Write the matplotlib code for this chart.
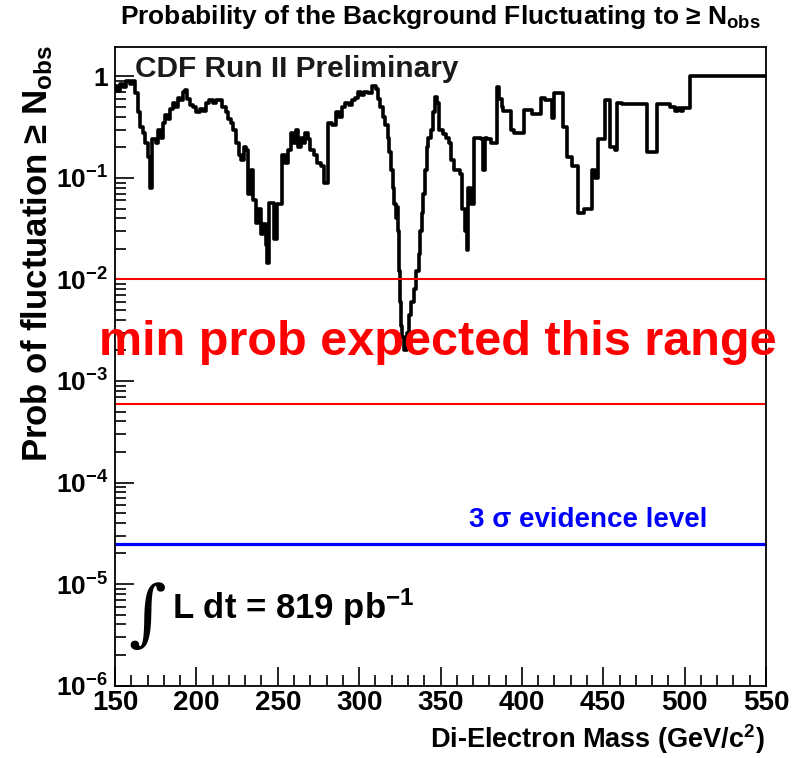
import numpy as np
import matplotlib
matplotlib.use("Agg")
import matplotlib.pyplot as plt
from matplotlib.ticker import FixedLocator, LogLocator, NullFormatter

plt.rcParams['font.family'] = ['Liberation Sans', 'DejaVu Sans']
plt.rcParams['font.weight'] = 'bold'
plt.rcParams['mathtext.fontset'] = 'custom'
plt.rcParams['mathtext.rm'] = 'Liberation Sans:bold'
plt.rcParams['mathtext.it'] = 'Liberation Sans:bold'
plt.rcParams['mathtext.bf'] = 'Liberation Sans:bold'

# step histogram: left bin edge (GeV/c^2) and probability
mass = [150.0, 151.5, 153.0, 155.0, 157.0, 159.0, 160.5, 162.0, 164.0, 165.5,
        167.0, 168.5, 170.0, 171.5, 173.0, 175.0, 176.5, 178.0, 179.5, 181.0,
        182.5, 184.0, 185.5, 187.0, 188.5, 190.0, 191.5, 193.0, 194.5, 196.0,
        198.0, 200.0, 202.0, 204.0, 206.0, 208.0, 210.0, 212.0, 214.0, 216.0,
        218.0, 219.5, 221.0, 222.5, 224.5, 226.0, 227.5, 229.0, 230.5, 232.0,
        233.5, 235.0, 236.5, 238.0, 239.5, 241.0, 242.5, 243.5, 244.5, 247.5,
        249.5, 252.5, 254.5, 256.5, 258.0, 259.5, 261.0, 262.5, 264.0, 265.5,
        267.0, 268.5, 270.0, 272.0, 274.0, 276.5, 278.5, 281.0, 283.5, 285.5,
        287.5, 289.5, 291.5, 293.5, 295.5, 297.5, 299.0, 301.0, 303.0, 305.5,
        308.0, 310.5, 311.5, 313.0, 314.5, 316.0, 317.5, 318.5, 319.5, 320.5,
        321.5, 322.5, 323.0, 324.0, 324.5, 325.0, 325.8, 326.5, 327.5, 329.5,
        330.5, 332.0, 333.5, 335.0, 336.5, 337.5, 338.5, 339.5, 340.5, 341.5,
        342.5, 344.0, 345.5, 346.5, 348.0, 349.0, 351.5, 353.5, 355.0, 356.5,
        358.0, 359.5, 362.0, 363.5, 365.0, 366.0, 367.0, 369.0, 370.5, 375.0,
        376.0, 377.5, 378.5, 381.0, 384.5, 386.0, 387.5, 388.5, 393.5, 395.0,
        401.5, 406.0, 412.0, 414.0, 418.5, 419.5, 425.5, 427.5, 431.0, 434.5,
        438.0, 443.0, 445.0, 447.0, 451.0, 454.0, 457.0, 458.5, 461.5, 477.0,
        483.0, 491.0, 494.0, 496.0, 497.5, 499.0, 503.3]
prob = [0.80, 0.72, 0.85, 0.78, 0.90, 0.85, 0.90, 0.69, 0.45, 0.32,
        0.28, 0.22, 0.16, 0.08, 0.24, 0.22, 0.30, 0.25, 0.35, 0.42,
        0.38, 0.48, 0.55, 0.50, 0.62, 0.58, 0.70, 0.74, 0.60, 0.52,
        0.50, 0.45, 0.48, 0.46, 0.55, 0.58, 0.55, 0.58, 0.58, 0.50,
        0.45, 0.38, 0.35, 0.30, 0.22, 0.17, 0.15, 0.20, 0.19, 0.07,
        0.12, 0.06, 0.036, 0.05, 0.028, 0.035, 0.022, 0.0145, 0.057, 0.025,
        0.055, 0.17, 0.14, 0.19, 0.28, 0.22, 0.30, 0.20, 0.25, 0.22,
        0.28, 0.24, 0.19, 0.17, 0.14, 0.13, 0.09, 0.35, 0.33, 0.45,
        0.40, 0.50, 0.55, 0.52, 0.58, 0.62, 0.70, 0.65, 0.70, 0.68,
        0.80, 0.76, 0.60, 0.50, 0.40, 0.33, 0.25, 0.18, 0.12, 0.08,
        0.056, 0.04, 0.052, 0.03, 0.012, 0.006, 0.0035, 0.0027, 0.0020, 0.0030,
        0.0045, 0.006, 0.008, 0.012, 0.018, 0.03, 0.045, 0.07, 0.12, 0.20,
        0.25, 0.30, 0.45, 0.63, 0.55, 0.30, 0.27, 0.25, 0.22, 0.15,
        0.12, 0.12, 0.11, 0.05, 0.03, 0.0195, 0.08, 0.055, 0.25, 0.24,
        0.12, 0.25, 0.24, 0.22, 0.79, 0.60, 0.50, 0.46, 0.30, 0.28,
        0.47, 0.43, 0.61, 0.58, 0.39, 0.68, 0.32, 0.16, 0.13, 0.045,
        0.05, 0.12, 0.10, 0.24, 0.58, 0.20, 0.19, 0.55, 0.53, 0.18,
        0.53, 0.50, 0.46, 0.49, 0.46, 0.49, 1.0]
x_end = 550.0

min_expected = [1e-2, 6e-4]
three_sigma = 2.5e-5

xticks = [150, 200, 250, 300, 350, 400, 450, 500, 550]
yticks = [1e-6, 1e-5, 1e-4, 1e-3, 1e-2, 1e-1, 1]
ylabels = ['10$^{-6}$', '10$^{-5}$', '10$^{-4}$', '10$^{-3}$', '10$^{-2}$', '10$^{-1}$', '1']

fig = plt.figure(figsize=(8.01, 7.58), dpi=100)
ax = fig.add_axes([0.1436, 0.0956, 0.8127, 0.8424])

ax.step(mass + [x_end], prob + [prob[-1]], where='post', color='black', lw=2.6)
for v in min_expected:
    ax.axhline(v, color='red', lw=1.5)
ax.axhline(three_sigma, color='blue', lw=2.3)

ax.set_yscale('log')
ax.set_xlim(150, 550)
ax.set_ylim(1e-6, 1.95)

ax.xaxis.set_major_locator(FixedLocator(xticks))
ax.xaxis.set_minor_locator(FixedLocator(np.arange(150, 551, 10)))
ax.set_xticklabels([str(t) for t in xticks])
ax.yaxis.set_major_locator(FixedLocator(yticks))
ax.set_yticklabels(ylabels)
ax.yaxis.set_minor_locator(LogLocator(base=10, subs=np.arange(2, 10), numticks=20))
ax.yaxis.set_minor_formatter(NullFormatter())
ax.tick_params(which='both', direction='in', top=False, right=False, width=1.2)
ax.tick_params(which='major', length=14)
ax.tick_params(which='minor', length=8)
ax.tick_params(axis='x', which='major', labelsize=20, pad=3)
ax.tick_params(axis='y', which='major', labelsize=19, pad=5)
for s in ax.spines.values():
    s.set_linewidth(1.3)

fig.text(0.955, 0.013, 'Di-Electron Mass (GeV/c$^{2}$)', ha='right', va='baseline',
         fontsize=19.5, fontweight='bold')
fig.text(0.047, 0.94, 'Prob of fluctuation ≥ N$_{\\rm obs}$', rotation=90, ha='center', va='top',
         fontsize=25, fontweight='bold')

fig.text(0.55, 0.977, 'Probability of the Background Fluctuating to ≥ N$_{\\rm obs}$',
         ha='center', va='center', fontsize=19, fontweight='bold')

ax.text(0.03, 0.988, 'CDF Run II Preliminary', transform=ax.transAxes, ha='left', va='top',
        fontsize=21.5, fontweight='bold', color='#1a1a1a')
ax.text(0.496, 0.538, 'min prob expected this range', transform=ax.transAxes, ha='center', va='center',
        fontsize=35, fontweight='bold', color='red', clip_on=False)
ax.text(0.7265, 0.259, '3 σ evidence level', transform=ax.transAxes, ha='center', va='center',
        fontsize=20, fontweight='bold', color='blue')
ax.text(0.05, 0.107, '∫', transform=ax.transAxes, ha='center', va='center',
        fontsize=52, family='DejaVu Serif', fontweight='normal')
ax.text(0.0876, 0.123, 'L dt = 819 pb$^{-1}$', transform=ax.transAxes, ha='left', va='center',
        fontsize=25, fontweight='bold')

fig.savefig('out.png', dpi=100)
